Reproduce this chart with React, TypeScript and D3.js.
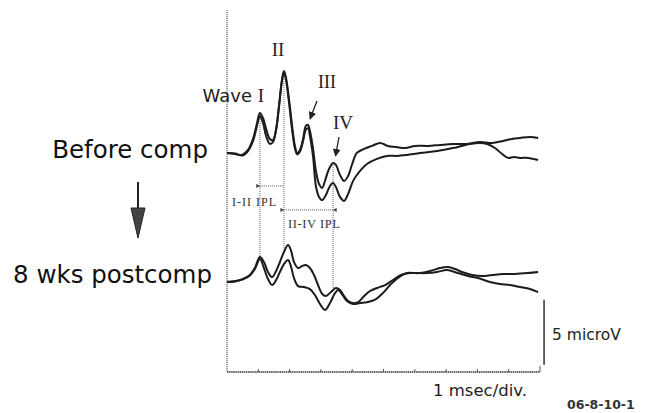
import React from 'react'
import * as d3 from 'd3'

// time in msec, amplitude in microV relative to each trace's own baseline
const beforeTime1 = [0, 0.26, 0.48, 0.67, 0.83, 0.96, 1.05, 1.15, 1.25, 1.37, 1.47, 1.57, 1.66, 1.76, 1.82, 1.88, 1.98, 2.08, 2.17, 2.24, 2.33, 2.43, 2.52, 2.59, 2.65, 2.75, 2.84, 2.94, 3.04, 3.13, 3.26, 3.39, 3.48, 3.61, 3.74, 3.87, 4.0, 4.15, 4.38, 4.63, 4.89, 5.14, 5.4, 5.69, 6.01, 6.42, 6.81, 7.22, 7.64, 8.08, 8.47, 8.82, 9.11, 9.36, 9.68, 9.94]
const beforeAmp1 = [0, -0.08, -0.15, 0.23, 1.08, 2.31, 3.08, 2.69, 1.85, 1.08, 1.0, 1.85, 3.62, 5.69, 6.31, 5.85, 4.15, 2.08, 0.54, 0, 0.23, 1.08, 2.08, 2.15, 1.69, 0.31, -1.38, -2.38, -2.69, -2.15, -1.23, -0.77, -0.92, -1.69, -2.15, -1.77, -0.85, 0, 0.31, 0.54, 0.77, 0.54, 0.46, 0.38, 0.54, 0.54, 0.62, 0.69, 0.69, 0.85, 0.77, 0.92, 1.08, 1.15, 1.23, 1.15]

const beforeTime2 = [0, 0.26, 0.48, 0.67, 0.83, 0.96, 1.05, 1.15, 1.25, 1.37, 1.47, 1.57, 1.66, 1.76, 1.82, 1.88, 1.98, 2.08, 2.17, 2.24, 2.33, 2.43, 2.52, 2.59, 2.65, 2.75, 2.84, 2.94, 3.04, 3.16, 3.29, 3.39, 3.48, 3.61, 3.74, 3.87, 4.03, 4.25, 4.47, 4.79, 5.11, 5.43, 5.75, 6.17, 6.71, 7.22, 7.76, 8.08, 8.31, 8.56, 8.79, 8.98, 9.17, 9.36, 9.62, 9.94]
const beforeAmp2 = [0, -0.05, -0.2, 0.15, 0.9, 2.1, 2.85, 2.3, 1.3, 0.7, 0.85, 1.8, 3.5, 5.6, 6.2, 5.7, 3.9, 1.8, 0.35, -0.1, 0.1, 0.9, 1.8, 1.9, 1.3, -0.3, -2.54, -3.38, -3.62, -3.23, -2.54, -2.31, -2.62, -3.38, -3.69, -3.15, -2.15, -1.38, -0.85, -0.46, -0.23, -0.23, -0.15, 0, 0.15, 0.38, 0.69, 0.77, 0.69, 0.38, -0.08, -0.38, -0.31, -0.38, -0.38, -0.54]

const afterTime1 = [0, 0.26, 0.51, 0.73, 0.89, 1.05, 1.18, 1.31, 1.44, 1.57, 1.69, 1.82, 1.95, 2.04, 2.14, 2.27, 2.4, 2.52, 2.65, 2.78, 2.91, 3.04, 3.16, 3.32, 3.48, 3.61, 3.74, 3.87, 4.03, 4.19, 4.38, 4.57, 4.79, 5.05, 5.3, 5.56, 5.85, 6.17, 6.49, 6.81, 7.06, 7.29, 7.51, 7.83, 8.15, 8.47, 8.82, 9.2, 9.62, 9.94]
const afterAmp1 = [0, 0.08, 0.23, 0.54, 1.08, 1.92, 1.54, 0.77, 0.38, 0.85, 1.54, 2.31, 2.85, 2.46, 1.54, 1.08, 1.23, 1.31, 1.08, 0.54, -0.23, -0.92, -1.08, -0.77, -0.46, -0.62, -1.08, -1.46, -1.62, -1.54, -1.08, -0.69, -0.46, -0.23, 0.15, 0.54, 0.69, 0.69, 0.85, 1.08, 1.15, 1.0, 0.77, 0.54, 0.46, 0.54, 0.62, 0.62, 0.69, 0.77]

const afterTime2 = [0, 0.26, 0.51, 0.73, 0.89, 1.05, 1.18, 1.31, 1.44, 1.57, 1.69, 1.82, 1.95, 2.04, 2.14, 2.27, 2.46, 2.65, 2.81, 2.97, 3.13, 3.29, 3.45, 3.55, 3.67, 3.83, 4.03, 4.25, 4.5, 4.76, 4.98, 5.21, 5.46, 5.75, 6.07, 6.39, 6.71, 7.03, 7.38, 7.7, 8.02, 8.4, 8.72, 9.04, 9.36, 9.68, 9.94]
const afterAmp2 = [0, 0.05, 0.2, 0.5, 1.0, 1.77, 1.08, 0.23, -0.23, 0.15, 0.77, 1.38, 1.69, 1.23, 0.31, -0.31, -0.38, -0.54, -1.0, -1.69, -2.15, -1.62, -0.85, -0.62, -0.92, -1.46, -1.69, -1.62, -1.54, -1.31, -0.85, -0.23, 0.31, 0.69, 0.69, 0.69, 0.77, 0.92, 0.69, 0.46, 0.31, 0, -0.15, -0.23, -0.38, -0.54, -0.77]

// peak latencies marked by dotted verticals (msec)
const waveLabels = ['I', 'II', 'IV']
const waveLatency = [1.05, 1.82, 3.39]

const W = 649
const H = 413
const BEFORE_BASE = 16.85 // microV offset of the upper pair
const AFTER_BASE = 6.92 // microV offset of the lower pair

const x = d3.scaleLinear().domain([0, 10]).range([227, 540])
const y = d3.scaleLinear().domain([0, 28]).range([372, 8])

const zip = (t: number[], a: number[], base: number) => t.map((v, i) => [v, a[i] + base] as [number, number])

const lineGen = d3.line<[number, number]>()
  .x(d => x(d[0]))
  .y(d => y(d[1]))
  .curve(d3.curveCatmullRom.alpha(0.5))

const valueAt = (t: number[], a: number[], tt: number) => {
  const i = d3.bisectRight(t, tt)
  if (i <= 0) return a[0]
  if (i >= t.length) return a[a.length - 1]
  const f = (tt - t[i - 1]) / (t[i] - t[i - 1])
  return a[i - 1] + f * (a[i] - a[i - 1])
}

const sans = '"DejaVu Sans", Verdana, sans-serif'
const serif = '"Liberation Serif", "Times New Roman", serif'

export default function App() {
  const traces = [
    zip(beforeTime1, beforeAmp1, BEFORE_BASE),
    zip(beforeTime2, beforeAmp2, BEFORE_BASE),
    zip(afterTime1, afterAmp1, AFTER_BASE),
    zip(afterTime2, afterAmp2, AFTER_BASE),
  ]
  const ticks = d3.range(0, 11)
  const ipl1Y = y(BEFORE_BASE - 2.54)
  const ipl2Y = y(BEFORE_BASE - 4.38)

  return (
    <svg width={W} height={H} style={{ position: 'absolute', left: 0, top: 0, background: '#fff' }}>
      <defs>
        <marker id="ah" viewBox="0 0 10 10" refX="9" refY="5" markerWidth="6" markerHeight="7" orient="auto">
          <path d="M0,0 L10,5 L0,10 z" fill="#222" />
        </marker>
        <marker id="sm" viewBox="0 0 10 10" refX="1" refY="5" markerWidth="4" markerHeight="4" orient="auto-start-reverse">
          <path d="M0,5 L10,0 L10,10 z" fill="#444" />
        </marker>
      </defs>

      {/* axes */}
      <line x1={x(0)} x2={x(0)} y1={10} y2={y(0)} stroke="#444" strokeWidth={1} strokeDasharray="1.2 0.8" />
      <line x1={x(0)} x2={x(10)} y1={y(0)} y2={y(0)} stroke="#333" strokeWidth={1.6} strokeDasharray="1.5 0.6" />
      {ticks.slice(1).map(t => (
        <line key={t} x1={x(t)} x2={x(t)} y1={y(0)} y2={y(0) - (t === 10 ? 6 : 3)} stroke="#555" strokeWidth={1} />
      ))}

      {/* scale bar */}
      <line x1={x(10.13)} x2={x(10.13)} y1={y(0.55)} y2={y(5.55)} stroke="#333" strokeWidth={1.5} />
      <text x={552} y={340} fontFamily={sans} fontSize={15.5} fill="#222">5 microV</text>
      <text x={433} y={396} fontFamily={sans} fontSize={16.5} fill="#222">1 msec/div.</text>
      <text x={567} y={409} fontFamily={sans} fontSize={12.5} fontWeight="bold" fill="#333">06-8-10-1</text>

      {/* latency markers */}
      {waveLatency.map((t, i) => (
        <line key={waveLabels[i]} x1={x(t)} x2={x(t)}
          y1={y(valueAt(beforeTime1, beforeAmp1, t) + BEFORE_BASE)}
          y2={y(valueAt(afterTime1, afterAmp1, t) + AFTER_BASE)}
          stroke="#666" strokeWidth={1} strokeDasharray="1 1" />
      ))}
      <line x1={x(waveLatency[0])} x2={x(waveLatency[1])} y1={ipl1Y} y2={ipl1Y}
        stroke="#555" strokeWidth={1} strokeDasharray="1 1" markerStart="url(#sm)" />
      <line x1={x(waveLatency[1])} x2={x(waveLatency[2])} y1={ipl2Y} y2={ipl2Y}
        stroke="#555" strokeWidth={1} strokeDasharray="1 1" markerStart="url(#sm)" markerEnd="url(#sm)" />
      <text x={232} y={206} fontFamily={serif} fontSize={12} fill="#333" textLength={44}>I-II IPL</text>
      <text x={288} y={228} fontFamily={serif} fontSize={12.5} fill="#333" textLength={52}>II-IV IPL</text>

      {/* traces */}
      {traces.map((tr, i) => (
        <path key={i} d={lineGen(tr) ?? ''} fill="none" stroke="#1c1c1c" strokeWidth={2} strokeLinejoin="round" />
      ))}

      {/* wave labels */}
      <text x={264} y={102} textAnchor="end" fill="#222">
        <tspan fontFamily={sans} fontSize={18}>Wave </tspan>
        <tspan fontFamily={serif} fontSize={19}>I</tspan>
      </text>
      <text x={278} y={56} textAnchor="middle" fontFamily={serif} fontSize={19} fill="#222">II</text>
      <text x={327} y={88} textAnchor="middle" fontFamily={serif} fontSize={18} fill="#222">III</text>
      <text x={343} y={129} textAnchor="middle" fontFamily={serif} fontSize={19} fill="#222">IV</text>
      <line x1={317} y1={101} x2={310} y2={119} stroke="#222" strokeWidth={1.3} markerEnd="url(#ah)" />
      <line x1={339} y1={137} x2={335.5} y2={156} stroke="#222" strokeWidth={1.3} markerEnd="url(#ah)" />

      {/* condition labels */}
      <text x={208} y={158} textAnchor="end" fontFamily={sans} fontSize={24.5} fill="#111">Before comp</text>
      <text x={212} y={283} textAnchor="end" fontFamily={sans} fontSize={24.5} fill="#111">8 wks postcomp</text>
      <line x1={138} x2={138} y1={182} y2={210} stroke="#222" strokeWidth={2} />
      <path d="M131,208 L145,208 L138,238 z" fill="#444" stroke="#222" strokeWidth={1} />
    </svg>
  )
}
